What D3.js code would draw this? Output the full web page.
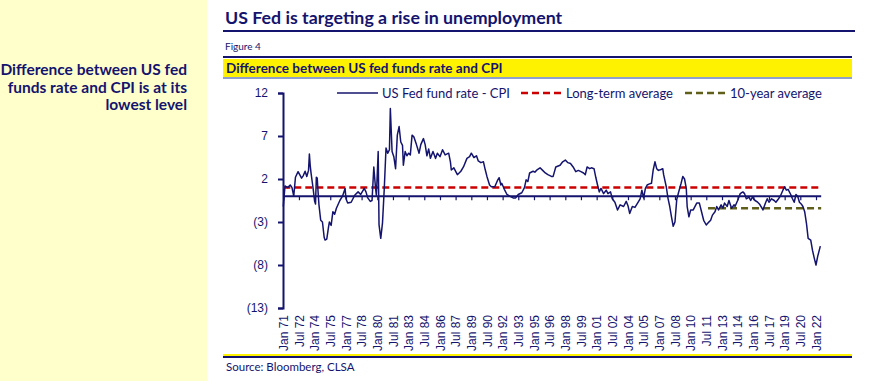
<!DOCTYPE html>
<meta charset="utf-8" />
<style>
  body {
    margin: 0px;
    padding: 0px;
    background: #fff;
  }
  svg {
    display: block;
  }
  .side text {
    font-family: Lato, sans-serif;
    font-weight: bold;
    font-size: 15.5px;
    fill: #14146e;
  }
  .axis text {
    font-family: "Liberation Sans", Arial, sans-serif;
    font-size: 12px;
    fill: #14146e;
  }
  .legend text {
    font-family: Lato, sans-serif;
    font-size: 13px;
    fill: #14146e;
  }
</style>

<svg width="874" height="381"></svg>

<script src="https://d3js.org/d3.v7.min.js"></script>
<script>
  // months since Jan 1971
  const monthIdx = [
    0, 2, 5, 8, 10, 12, 14, 17, 21, 23, 25, 27, 29, 30, 31, 32, 34, 36, 37, 38, 39, 40, 41, 43, 45, 47, 48, 50, 52, 53,
    55, 57, 59, 61, 65, 68, 71, 72, 74, 78, 82, 86, 89, 93, 95, 97, 100, 102, 104, 106, 107, 109, 110, 112, 114, 116,
    118, 120, 122, 123, 125, 127, 129, 131, 133, 135, 137, 138, 140, 142, 144, 146, 148, 150, 153, 156, 158, 161, 163,
    165, 167, 169, 172, 175, 177, 180, 183, 186, 190, 192, 193, 196, 200, 204, 207, 211, 214, 216, 219, 222, 224, 227,
    230, 232, 234, 237, 239, 243, 246, 248, 250, 251, 254, 257, 260, 264, 267, 270, 274, 277, 279, 281, 283, 287, 289,
    292, 295, 298, 301, 304, 308, 310, 313, 318, 321, 324, 327, 330, 333, 336, 339, 342, 345, 347, 349, 352, 354, 357,
    359, 361, 363, 365, 368, 371, 373, 376, 378, 381, 384, 387, 391, 394, 396, 398, 401, 404, 407, 410, 412, 414, 416,
    418, 420, 423, 425, 427, 429, 431, 434, 436, 437, 440, 442, 444, 446, 448, 450, 452, 454, 457, 459, 461, 463, 464,
    466, 468, 471, 475, 478, 480, 483, 486, 488, 491, 493, 496, 498, 500, 503, 505, 507, 510, 512, 515, 518, 519, 522,
    525, 528, 530, 532, 535, 537, 539, 542, 545, 547, 550, 551, 554, 556, 558, 561, 564, 566, 569, 571, 574, 576, 578,
    580, 583, 585, 587, 589, 591, 593, 595, 597, 599, 601, 603, 606, 608, 610, 612, 614, 617,
  ];
  // US Fed fund rate - CPI (ppt)
  const spread = [
    -1.2, 1.2, 1.0, 1.3, 1.0, 0.0, 2.2, 2.85, 2.1, 2.4, 2.9, 2.3, 3.0, 4.9, 3.5, 2.6, 1.1, -0.6, -0.9, 2.2, 2.1, 0.5, -1.0,
    -2.8, -3.0, -4.8, -5.1, -5.0, -3.6, -3.0, -3.4, -1.8, -2.1, -1.4, -0.5, 0.0, 0.9, -0.3, -0.8, -0.7, 0.1, 0.5, 0.2, 0.9,
    0.5, -0.2, -0.6, -0.5, 3.4, 0.9, 0.1, 5.2, -3.3, -4.9, -3.1, 0.9, 5.6, 5.0, 5.4, 10.2, 5.2, 4.6, 3.2, 7.1, 8.1, 6.3,
    5.9, 3.6, 5.2, 4.7, 5.0, 4.8, 7.1, 6.9, 6.0, 5.0, 6.0, 6.7, 6.0, 4.7, 5.5, 4.4, 5.2, 4.4, 5.0, 4.6, 5.4, 4.8, 5.0, 4.0,
    3.05, 3.3, 2.5, 2.9, 3.4, 4.4, 4.6, 5.0, 4.5, 4.7, 4.1, 3.9, 4.0, 3.1, 2.3, 1.3, 1.1, 1.1, 1.8, 2.15, 1.3, 1.5, 0.8,
    0.2, 0.0, -0.2, -0.2, 0.2, 0.4, 1.0, 1.9, 1.7, 2.7, 2.9, 2.8, 3.1, 3.3, 3.0, 2.7, 2.5, 2.3, 2.3, 3.4, 3.6, 4.0, 4.2,
    3.9, 3.8, 3.4, 2.85, 3.0, 2.85, 2.7, 2.5, 3.4, 3.2, 3.3, 3.2, 2.2, 1.3, 0.5, 0.9, 0.3, 0.7, 0.3, 0.5, -0.3, -0.7,
    -1.6, -1.0, -1.2, -0.6, -1.1, -2.0, -1.2, -1.3, -0.8, -0.3, 0.7, -0.2, 0.9, 1.3, 1.4, 1.5, 3.05, 4.0, 3.2, 3.0, 3.1,
    3.2, 2.5, 1.1, -0.25, -1.2, -2.4, -3.5, -3.0, -0.4, 0.4, 1.5, 2.3, 2.0, 0.9, -1.2, -2.4, -1.6, -1.6, -0.8, -0.8, -1.6,
    -2.8, -3.35, -3.1, -2.8, -2.2, -1.8, -1.2, -1.6, -1.0, -1.4, -0.8, -1.2, -0.5, -1.4, -1.0, -1.2, -0.5, 0.3, 0.5, 0.3,
    -0.3, -0.1, -0.5, -0.1, -0.5, -0.7, -0.9, -1.4, -1.6, -0.8, -0.3, -0.7, -0.3, -0.5, -0.7, -0.3, 0.0, 0.7, 1.1, 0.7,
    0.8, 0.2, -0.3, -0.7, 0.2, 0.0, -0.7, -0.9, -1.2, -1.8, -3.15, -4.9, -5.1, -6.3, -7.2, -8.0, -7.0, -5.8,
  ];
  const longTermAvg = 1.0;
  const tenYearAvg = -1.4;
  const tenYearStart = 488; // Aug 2011
  const lastMonth = 618;
  const yTicks = [12, 7, 2, -3, -8, -13];
  const xTickStep = 18; // one label every 18 months, Jan 71 .. Jan 22
  const legendLabels = ["US Fed fund rate - CPI", "Long-term average", "10-year average"];

  const navy = "#14146e";
  const base = new Date(1971, 0, 1);
  const toDate = (m) => d3.timeMonth.offset(base, m);

  const svg = d3.select("svg");

  // left yellow panel
  const side = svg.append("g").attr("class", "side");
  side.append("rect").attr("x", 0).attr("y", 0).attr("width", 207).attr("height", 381).attr("fill", "#ffffcc");
  ["Difference between US fed", "funds rate and CPI is at its", "lowest level"].forEach((t, i) => {
    side
      .append("text")
      .attr("x", 187)
      .attr("y", 75 + i * 17.7)
      .attr("text-anchor", "end")
      .text(t);
  });

  // header
  svg
    .append("text")
    .attr("x", 225)
    .attr("y", 24)
    .attr("font-family", "Lato, sans-serif")
    .attr("font-weight", "bold")
    .attr("font-size", 17.8)
    .attr("fill", navy)
    .text("US Fed is targeting a rise in unemployment");
  svg.append("rect").attr("x", 223).attr("y", 30).attr("width", 632).attr("height", 2).attr("fill", navy);
  svg
    .append("text")
    .attr("x", 225)
    .attr("y", 50)
    .attr("font-family", "Lato, sans-serif")
    .attr("font-size", 10)
    .attr("fill", navy)
    .text("Figure 4");
  svg.append("rect").attr("x", 223).attr("y", 56).attr("width", 629).attr("height", 2).attr("fill", navy);
  svg.append("rect").attr("x", 223).attr("y", 59).attr("width", 629).attr("height", 18).attr("fill", "#fff200");
  svg.append("rect").attr("x", 223).attr("y", 77).attr("width", 629).attr("height", 2).attr("fill", "#8fa0cc");
  svg
    .append("text")
    .attr("x", 226)
    .attr("y", 73)
    .attr("font-family", "Lato, sans-serif")
    .attr("font-weight", "bold")
    .attr("font-size", 13.5)
    .attr("fill", navy)
    .text("Difference between US fed funds rate and CPI");

  // footer
  svg.append("rect").attr("x", 223).attr("y", 354).attr("width", 629).attr("height", 2).attr("fill", "#fff200");
  svg.append("rect").attr("x", 223).attr("y", 356).attr("width", 629).attr("height", 2).attr("fill", navy);
  svg
    .append("text")
    .attr("x", 226)
    .attr("y", 371)
    .attr("font-family", "Lato, sans-serif")
    .attr("font-size", 11.5)
    .attr("fill", navy)
    .text("Source: Bloomberg, CLSA");

  // scales
  const x = d3.scaleTime().domain([toDate(0), toDate(612)]).range([283.3, 816]);
  const y = d3.scaleLinear().domain([-13, 12]).range([308, 93]);

  const fmtY = (d) => (d < 0 ? "(" + Math.abs(d) + ")" : d);
  const yAxis = svg
    .append("g")
    .attr("class", "axis")
    .attr("transform", "translate(283,0)")
    .call(d3.axisLeft(y).tickValues(yTicks).tickFormat(fmtY).tickSize(5).tickPadding(10));
  yAxis.select(".domain").attr("stroke", navy).attr("stroke-width", 2);
  yAxis.selectAll(".tick line").attr("stroke", navy).attr("stroke-width", 2);

  const xTicks = d3.range(0, 613, xTickStep).map(toDate);
  const fmtX = d3.timeFormat("%b %y");

  // zero line with small ticks
  const zeroAxis = svg
    .append("g")
    .attr("transform", `translate(0,${y(0)})`)
    .call(d3.axisBottom(x).tickValues(xTicks).tickFormat("").tickSize(4).tickSizeOuter(0));
  zeroAxis.select(".domain").attr("d", `M283,0H${x(toDate(lastMonth))}`).attr("stroke", navy).attr("stroke-width", 2);
  zeroAxis.selectAll(".tick line").attr("stroke", navy).attr("stroke-width", 1.2);

  // rotated labels at bottom
  const xAxis = svg
    .append("g")
    .attr("class", "axis")
    .attr("transform", "translate(0,312)")
    .call(d3.axisBottom(x).tickValues(xTicks).tickFormat(fmtX).tickSize(0));
  xAxis.select(".domain").remove();
  xAxis
    .selectAll("text")
    .attr("transform", "rotate(-90)")
    .attr("text-anchor", "end")
    .attr("x", -3)
    .attr("y", 0)
    .attr("dy", "0.36em");

  // averages
  svg
    .append("line")
    .attr("x1", x(toDate(0)))
    .attr("x2", x(toDate(lastMonth)))
    .attr("y1", y(longTermAvg))
    .attr("y2", y(longTermAvg))
    .attr("stroke", "#cc0000")
    .attr("stroke-width", 2.5)
    .attr("stroke-dasharray", "7,4");
  svg
    .append("line")
    .attr("x1", x(toDate(tenYearStart)))
    .attr("x2", x(toDate(lastMonth)))
    .attr("y1", y(tenYearAvg))
    .attr("y2", y(tenYearAvg))
    .attr("stroke", "#5f5f1a")
    .attr("stroke-width", 2.5)
    .attr("stroke-dasharray", "7,4");

  // series
  const line = d3
    .line()
    .x((d, i) => x(toDate(monthIdx[i])))
    .y((d) => y(d));
  svg
    .append("path")
    .datum(spread)
    .attr("fill", "none")
    .attr("stroke", navy)
    .attr("stroke-width", 1.5)
    .attr("stroke-linejoin", "round")
    .attr("d", line);

  // legend
  const legend = svg.append("g").attr("class", "legend");
  const items = [
    { x: 337, color: navy, dash: null },
    { x: 521, color: "#cc0000", dash: "7,4" },
    { x: 685, color: "#5f5f1a", dash: "7,4" },
  ];
  items.forEach((it, i) => {
    legend
      .append("line")
      .attr("x1", it.x)
      .attr("x2", it.x + 41)
      .attr("y1", 93)
      .attr("y2", 93)
      .attr("stroke", it.color)
      .attr("stroke-width", it.dash ? 2.5 : 1.6)
      .attr("stroke-dasharray", it.dash);
    legend
      .append("text")
      .attr("x", it.x + 45)
      .attr("y", 97.5)
      .text(legendLabels[i]);
  });
</script>
